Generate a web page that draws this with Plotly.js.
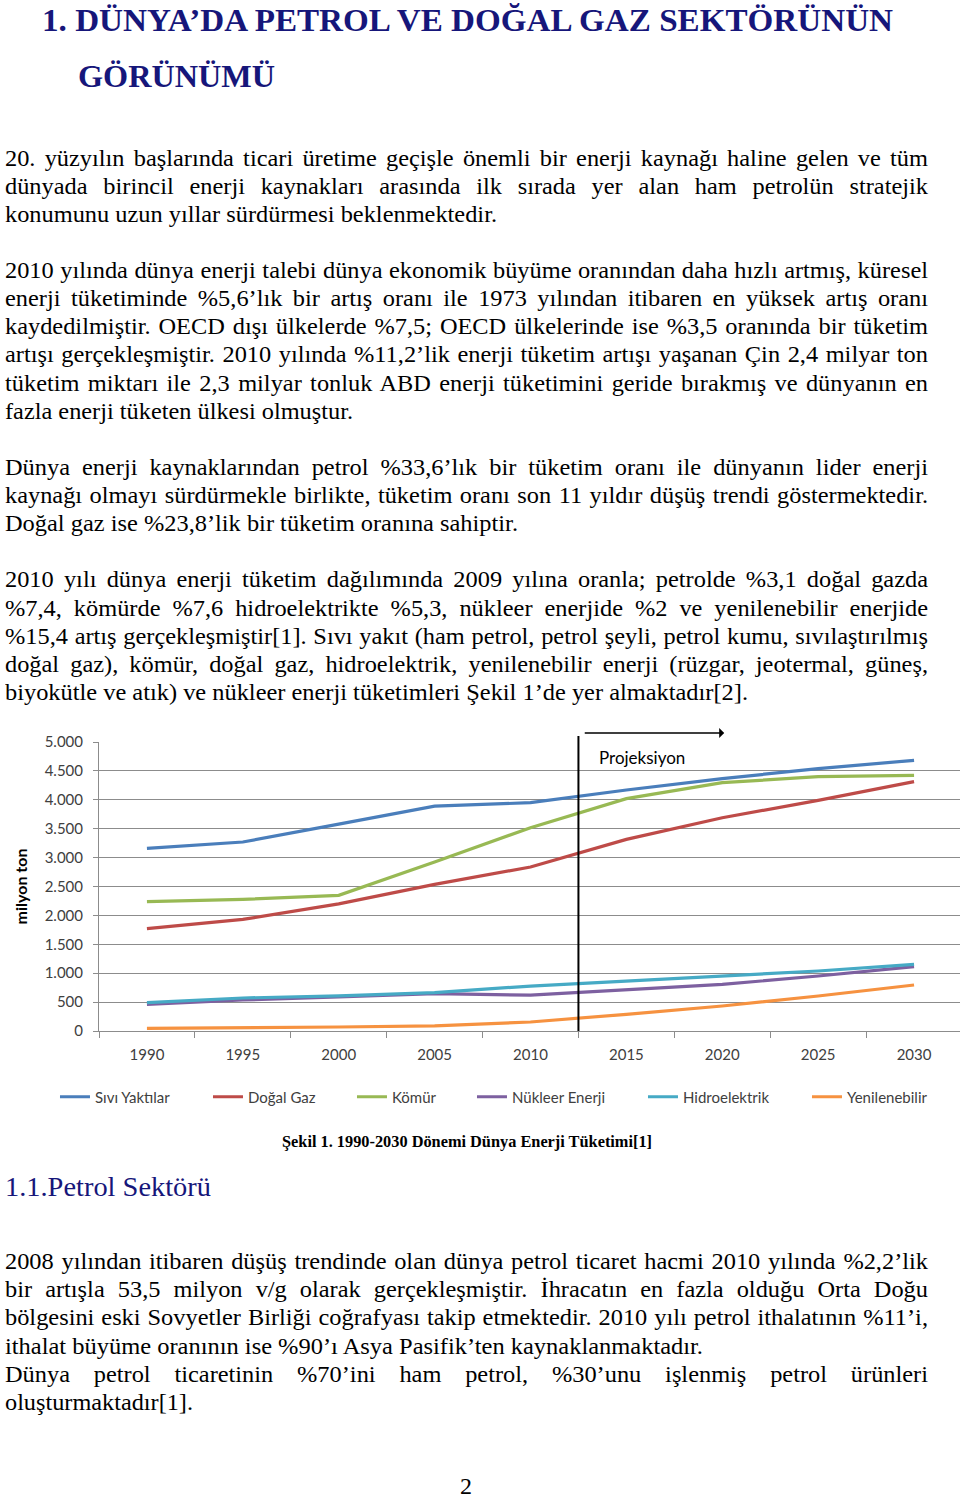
<!DOCTYPE html>
<html>
<head>
<meta charset="utf-8">
<script src="https://cdn.plot.ly/plotly-3.0.1.min.js"></script>
<style>
  html, body { margin:0; padding:0; background:#fff; }
  #page { position:relative; width:960px; height:1500px; overflow:hidden; background:#fff; }
  .ln { position:absolute; white-space:nowrap; transform-origin:0 0; }
  .body { font-family:"Liberation Serif","Times New Roman",serif; font-size:24px; line-height:24px; color:#000; }
  .pg { font-family:"Liberation Serif","Times New Roman",serif; font-size:24px; line-height:18px; color:#000; }
  .h1 { font-family:"Liberation Serif","Times New Roman",serif; font-weight:bold; font-size:32px; line-height:32px; color:#16167a; }
  .h2 { font-family:"Liberation Serif","Times New Roman",serif; font-size:28px; line-height:28px; color:#16167a; }
  .cap { font-family:"Liberation Serif","Times New Roman",serif; font-weight:bold; font-size:16px; line-height:16px; color:#000; }
  #chart { position:absolute; left:0; top:700px; width:962px; height:430px; }
</style>
</head>
<body>
<div id="page">
  <div id="chart"></div>
</div>
<script>
// ---------------- chart data ----------------
const years = ["1990","1995","2000","2005","2010","2015","2020","2025","2030"];
const seriesNames = ["Sıvı Yaktılar","Doğal Gaz","Kömür","Nükleer Enerji","Hidroelektrik","Yenilenebilir"];
const sivi      = [3160, 3270, 3580, 3890, 3950, 4170, 4366, 4540, 4683];
const dogalGaz  = [1770, 1930, 2200, 2537, 2837, 3316, 3690, 3990, 4314];
const komur     = [2238, 2278, 2347, 2924, 3518, 4020, 4296, 4400, 4423];
const nukleer   = [461, 536, 588, 646, 620, 709, 807, 951, 1113];
const hidro     = [490, 571, 606, 663, 778, 865, 963, 1038, 1153];
const yenilenebilir = [46, 52, 69, 87, 156, 288, 433, 606, 796];
const yTitle = "milyon ton";
const projLabel = "Projeksiyon";

const seriesValues = [sivi, dogalGaz, komur, nukleer, hidro, yenilenebilir];
const colors = ["#4a7ebb","#be4b48","#98b954","#7d60a0","#46aac5","#f69240"];
const legendWidths = [108, 99, 75, 126, 119, 100];

const traces = seriesValues.map((vals, i) => ({
  type:"scatter", mode:"lines", x:years, y:vals, name:seriesNames[i],
  line:{color:colors[i], width:3.2}, legendwidth:legendWidths[i]
}));

const layout = {
  width:962, height:430,
  margin:{l:99, r:0, t:42, b:99},
  paper_bgcolor:"rgba(0,0,0,0)", plot_bgcolor:"rgba(0,0,0,0)",
  separators:",.",
  font:{family:"Lato, 'Open Sans', sans-serif", size:15, color:"#404040"},
  showlegend:true,
  legend:{orientation:"h", x:-0.051, xanchor:"left", y:-0.2284, yanchor:"middle",
          font:{size:15, color:"#404040"}, bgcolor:"rgba(0,0,0,0)"},
  xaxis:{type:"category", range:[-0.5, 8.5], showgrid:false, showline:true, linecolor:"#8c8c8c", linewidth:1,
         ticks:"outside", tickson:"boundaries", ticklen:6, tickcolor:"#8c8c8c",
         ticklabelstandoff:10, tickfont:{size:15, color:"#404040"}, fixedrange:true},
  yaxis:{range:[0,5000], dtick:500, tickformat:",", showgrid:true, gridcolor:"#8c8c8c", gridwidth:1,
         showline:true, linecolor:"#8c8c8c", ticks:"outside", ticklen:5, tickcolor:"#8c8c8c",
         ticklabelstandoff:7, tickfont:{size:15, color:"#404040"}, zeroline:false,
         title:{text:yTitle, font:{size:16, color:"#000", family:"Lato, sans-serif", weight:"bold"}, standoff:13}},
  shapes:[
    {type:"line", xref:"x", yref:"paper", x0:4.5, x1:4.5, y0:0, y1:1.021, line:{color:"#000", width:2}}
  ],
  annotations:[
    {xref:"x", yref:"paper", x:6.02, y:1.031, axref:"x", ayref:"paper", ax:4.55, ay:1.031,
     showarrow:true, arrowhead:1, arrowsize:1.2, arrowwidth:1.4, arrowcolor:"#000", text:""},
    {xref:"x", yref:"y", x:4.69, y:4735, xanchor:"left", yanchor:"middle", showarrow:false,
     text:projLabel, font:{size:17, color:"#000", family:"Lato, sans-serif"}}
  ]
};
Plotly.newPlot("chart", traces, layout, {staticPlot:true, displayModeBar:false});

// ---------------- page text ----------------
// [text, left, right, centerY, justify, class]
const textLines = [
 ["1. DÜNYA’DA PETROL VE DOĞAL GAZ SEKTÖRÜNÜN", 42, 893, 22, false, "h1"],
 ["GÖRÜNÜMÜ", 78, 275, 78, false, "h1"],
 ["20. yüzyılın başlarında ticari üretime geçişle önemli bir enerji kaynağı haline gelen ve tüm", 5, 928, 159, true, "body"],
 ["dünyada birincil enerji kaynakları arasında ilk sırada yer alan ham petrolün stratejik", 5, 928, 187, true, "body"],
 ["konumunu uzun yıllar sürdürmesi beklenmektedir.", 5, 497, 215, false, "body"],
 ["2010 yılında dünya enerji talebi dünya ekonomik büyüme oranından daha hızlı artmış, küresel", 5, 928, 271, true, "body"],
 ["enerji tüketiminde %5,6’lık bir artış oranı ile 1973 yılından itibaren en yüksek artış oranı", 5, 928, 299, true, "body"],
 ["kaydedilmiştir. OECD dışı ülkelerde %7,5; OECD ülkelerinde ise %3,5 oranında bir tüketim", 5, 928, 327, true, "body"],
 ["artışı gerçekleşmiştir. 2010 yılında %11,2’lik enerji tüketim artışı yaşanan Çin 2,4 milyar ton", 5, 928, 355, true, "body"],
 ["tüketim miktarı ile 2,3 milyar tonluk ABD enerji tüketimini geride bırakmış ve dünyanın en", 5, 928, 384, true, "body"],
 ["fazla enerji tüketen ülkesi olmuştur.", 5, 353, 412, false, "body"],
 ["Dünya enerji kaynaklarından petrol %33,6’lık bir tüketim oranı ile dünyanın lider enerji", 5, 928, 468, true, "body"],
 ["kaynağı olmayı sürdürmekle birlikte, tüketim oranı son 11 yıldır düşüş trendi göstermektedir.", 5, 928, 496, true, "body"],
 ["Doğal gaz ise %23,8’lik bir tüketim oranına sahiptir.", 5, 518, 524, false, "body"],
 ["2010 yılı dünya enerji tüketim dağılımında 2009 yılına oranla; petrolde %3,1 doğal gazda", 5, 928, 580, true, "body"],
 ["%7,4, kömürde %7,6 hidroelektrikte %5,3, nükleer enerjide %2 ve yenilenebilir enerjide", 5, 928, 609, true, "body"],
 ["%15,4 artış gerçekleşmiştir[1]. Sıvı yakıt (ham petrol, petrol şeyli, petrol kumu, sıvılaştırılmış", 5, 928, 637, true, "body"],
 ["doğal gaz), kömür, doğal gaz, hidroelektrik, yenilenebilir enerji (rüzgar, jeotermal, güneş,", 5, 928, 665, true, "body"],
 ["biyokütle ve atık) ve nükleer enerji tüketimleri Şekil 1’de yer almaktadır[2].", 5, 748, 693, false, "body"],
 ["Şekil 1. 1990-2030 Dönemi Dünya Enerji Tüketimi[1]", 282, 652, 1143, false, "cap"],
 ["1.1.Petrol Sektörü", 5, 211, 1188, false, "h2"],
 ["2008 yılından itibaren düşüş trendinde olan dünya petrol ticaret hacmi 2010 yılında %2,2’lik", 5, 928, 1262, true, "body"],
 ["bir artışla 53,5 milyon v/g olarak gerçekleşmiştir. İhracatın en fazla olduğu Orta Doğu", 5, 928, 1290, true, "body"],
 ["bölgesini eski Sovyetler Birliği coğrafyası takip etmektedir. 2010 yılı petrol ithalatının %11’i,", 5, 928, 1318, true, "body"],
 ["ithalat büyüme oranının ise %90’ı Asya Pasifik’ten kaynaklanmaktadır.", 5, 703, 1347, false, "body"],
 ["Dünya petrol ticaretinin %70’ini ham petrol, %30’unu işlenmiş petrol ürünleri", 5, 928, 1375, true, "body"],
 ["oluşturmaktadır[1].", 5, 193, 1403, false, "body"],
 ["2", 460, 472, 1487, false, "pg"]
];

const page = document.getElementById("page");
const measured = [];
textLines.forEach(([t, x0, x1, cy, just, cls]) => {
  const d = document.createElement("div");
  d.className = "ln " + cls;
  d.textContent = t;
  page.appendChild(d);
  const cs = getComputedStyle(d);
  const fs = parseFloat(cs.fontSize);
  const lh = parseFloat(cs.lineHeight) || fs;
  d.style.left = x0 + "px";
  d.style.top = (cy - 0.55 * fs + (fs - lh) / 2) + "px";
  measured.push({d, t, x0, x1, just, cls, w: d.getBoundingClientRect().width});
});
// global width factor for body text from non-justified lines
const bodyRatios = measured.filter(m => !m.just && m.cls === "body" && m.t.length > 5).map(m => (m.x1 - m.x0) / m.w);
const sx = bodyRatios.reduce((a,b)=>a+b,0) / bodyRatios.length;
measured.forEach(m => {
  const target = m.x1 - m.x0;
  if (m.just) {
    let s = sx;
    if (m.w * s > target) s = target / m.w;
    m.d.style.width = (target / s) + "px";
    m.d.style.whiteSpace = "normal";
    m.d.style.textAlign = "justify";
    m.d.style.textAlignLast = "justify";
    m.d.style.transform = "scaleX(" + s + ")";
  } else if (m.t.length > 2) {
    m.d.style.transform = "scaleX(" + (target / m.w) + ")";
  }
});
</script>
</body>
</html>
